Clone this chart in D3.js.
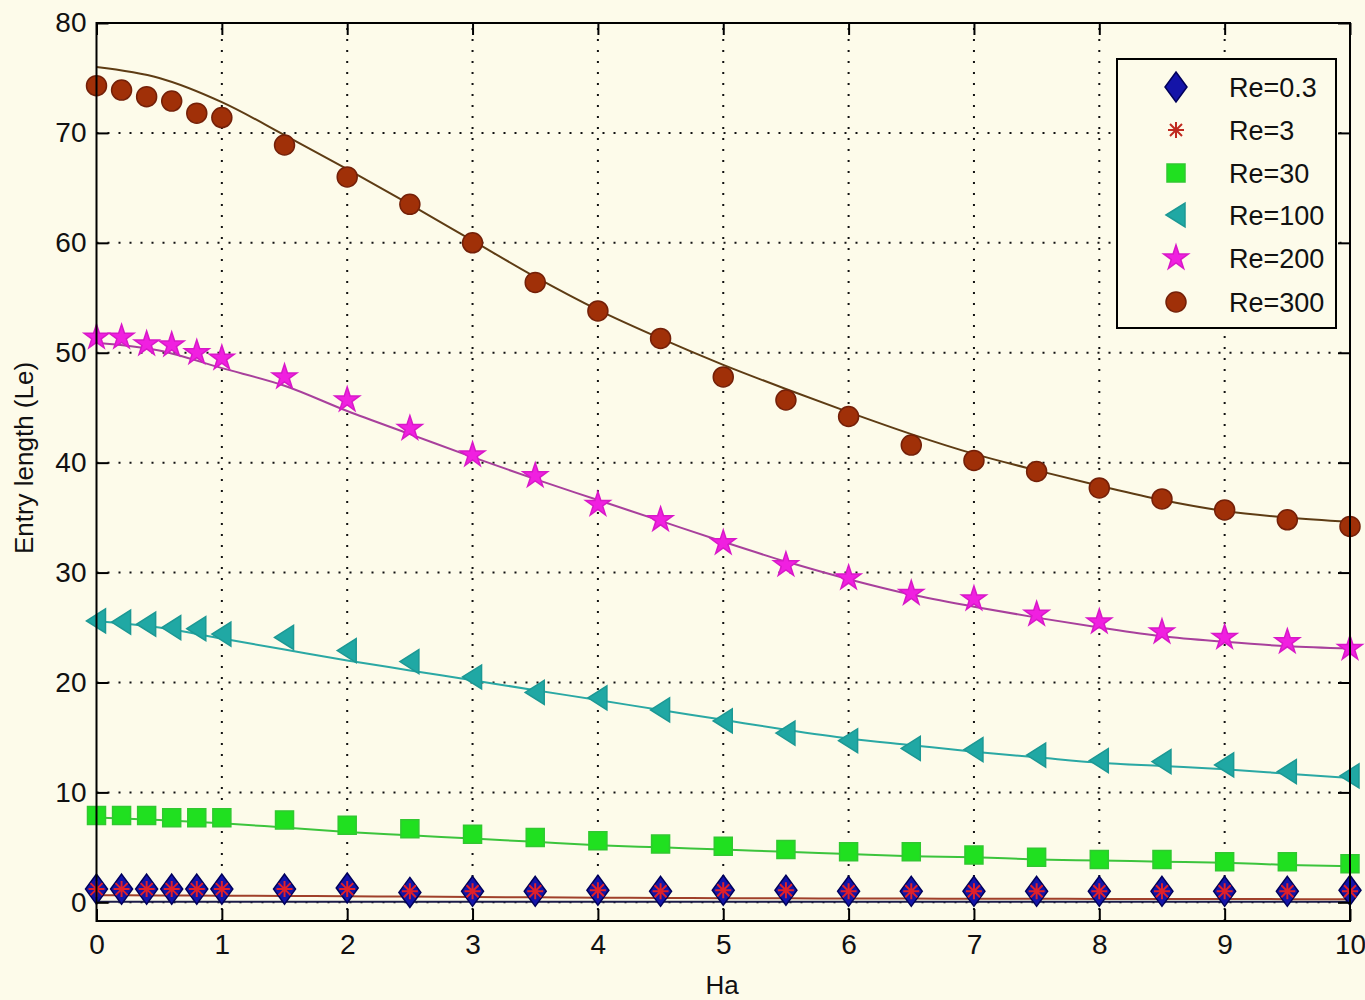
<!DOCTYPE html>
<html>
<head>
<meta charset="utf-8">
<script src="https://cdn.jsdelivr.net/npm/d3@7"></script>
<style>
  body { margin: 0; background: #fdfbea; }
  svg { display: block; font-family: "Liberation Sans", Arial, sans-serif; }
</style>
</head>
<body>
<div id="grafica"></div>
<script>
'use strict'

//---------------------------Datos--------------------------------//
// Ha de los puntos (marcadores)
var ha = [0, 0.2, 0.4, 0.6, 0.8, 1, 1.5, 2, 2.5, 3, 3.5, 4, 4.5, 5, 5.5, 6, 6.5, 7, 7.5, 8, 8.5, 9, 9.5, 10];
// Ha de las curvas de ajuste
var haAjuste = [0, 0.5, 1, 1.5, 2, 2.5, 3, 3.5, 4, 4.5, 5, 5.5, 6, 6.5, 7, 7.5, 8, 8.5, 9, 9.5, 10];

var re03 = [1.2, 1.2, 1.2, 1.2, 1.2, 1.2, 1.2, 1.3, 0.9, 1.0, 1.0, 1.1, 1.0, 1.1, 1.1, 1.0, 1.0, 1.0, 1.0, 1.0, 1.0, 1.0, 1.0, 1.1];
var re3 = [1.2, 1.2, 1.2, 1.2, 1.2, 1.2, 1.2, 1.2, 1.0, 1.0, 1.0, 1.1, 1.0, 1.1, 1.1, 1.0, 1.0, 1.0, 1.0, 1.0, 1.0, 1.0, 1.0, 1.0];
var re30 = [7.9, 7.9, 7.9, 7.7, 7.7, 7.7, 7.5, 7.0, 6.7, 6.2, 5.9, 5.6, 5.3, 5.1, 4.8, 4.6, 4.6, 4.3, 4.1, 3.9, 3.9, 3.7, 3.7, 3.5];
var re100 = [25.6, 25.5, 25.3, 25.0, 24.9, 24.4, 24.1, 22.9, 21.9, 20.5, 19.1, 18.6, 17.5, 16.5, 15.4, 14.7, 14.0, 13.9, 13.4, 12.9, 12.8, 12.5, 11.9, 11.5];
var re200 = [51.4, 51.4, 50.8, 50.7, 50.0, 49.5, 47.8, 45.7, 43.1, 40.7, 38.8, 36.2, 34.8, 32.7, 30.7, 29.5, 28.1, 27.6, 26.2, 25.5, 24.6, 24.1, 23.7, 23.1];
var re300 = [74.3, 73.9, 73.3, 72.9, 71.8, 71.4, 68.9, 66.0, 63.5, 60.0, 56.4, 53.8, 51.3, 47.8, 45.7, 44.2, 41.6, 40.2, 39.2, 37.7, 36.7, 35.7, 34.8, 34.2];

var ajuste03 = [0.06, 0.06, 0.06, 0.06, 0.06, 0.05, 0.05, 0.05, 0.05, 0.05, 0.05, 0.05, 0.05, 0.05, 0.05, 0.05, 0.05, 0.05, 0.05, 0.05, 0.05];
var ajuste3 = [0.65, 0.63, 0.6, 0.58, 0.55, 0.52, 0.48, 0.45, 0.42, 0.4, 0.38, 0.36, 0.35, 0.34, 0.33, 0.32, 0.31, 0.3, 0.3, 0.29, 0.28];
var ajuste30 = [7.7, 7.5, 7.2, 6.8, 6.4, 6.1, 5.8, 5.5, 5.2, 5.0, 4.8, 4.6, 4.4, 4.2, 4.1, 3.9, 3.8, 3.7, 3.6, 3.4, 3.3];
var ajuste100 = [25.6, 25.0, 24.0, 23.0, 22.0, 21.1, 20.2, 19.3, 18.4, 17.5, 16.6, 15.7, 14.9, 14.3, 13.7, 13.2, 12.7, 12.4, 12.1, 11.7, 11.3];
var ajuste200 = [50.9, 50.2, 48.6, 47.0, 44.7, 42.6, 40.5, 38.5, 36.6, 34.7, 32.8, 31.0, 29.4, 28.0, 26.9, 25.9, 25.0, 24.2, 23.7, 23.3, 23.1];
var ajuste300 = [76.0, 75.0, 72.8, 69.8, 66.7, 63.5, 60.2, 56.9, 53.9, 51.3, 48.9, 46.7, 44.6, 42.6, 40.8, 39.3, 37.9, 36.6, 35.6, 35.0, 34.6];

var etiquetas = ['Re=0.3', 'Re=3', 'Re=30', 'Re=100', 'Re=200', 'Re=300'];
var xTicks = [0, 1, 2, 3, 4, 5, 6, 7, 8, 9, 10];
var yTicks = [0, 10, 20, 30, 40, 50, 60, 70, 80];

//---------------------------Estilos de series--------------------------------//
var series = [
  { puntos: re03, ajuste: ajuste03, marca: 'diamante', relleno: '#1414a8', borde: '#00005a', linea: '#1c1c4a' },
  { puntos: re3, ajuste: ajuste3, marca: 'asterisco', relleno: 'none', borde: '#e0202a', linea: '#a0402a' },
  { puntos: re30, ajuste: ajuste30, marca: 'cuadrado', relleno: '#20e020', borde: '#30c830', linea: '#3cc43c' },
  { puntos: re100, ajuste: ajuste100, marca: 'triangulo', relleno: '#20a8a4', borde: '#1c9894', linea: '#2aa8a4' },
  { puntos: re200, ajuste: ajuste200, marca: 'estrella', relleno: '#f020e0', borde: '#d818c8', linea: '#a8409c' },
  { puntos: re300, ajuste: ajuste300, marca: 'circulo', relleno: '#a03008', borde: '#742008', linea: '#5e3c14' }
];

function pathMarca(tipo) {
  if (tipo === 'diamante') return 'M0,-15L11,0L0,15L-11,0Z';
  if (tipo === 'asterisco') return 'M-8,0L8,0M0,-8L0,8M-6,-6L6,6M-6,6L6,-6';
  if (tipo === 'cuadrado') return 'M-9,-9L9,-9L9,9L-9,9Z';
  if (tipo === 'triangulo') return 'M-10,0L9,-12L9,12Z';
  if (tipo === 'estrella') return d3.symbol(d3.symbolStar, 190)();
  return d3.symbol(d3.symbolCircle, Math.PI * 100)();
}

//---------------------------Grafica--------------------------------//
var width = 1365, height = 1000;
var margin = { top: 23, right: 15, bottom: 79, left: 96.5 };

var x = d3.scaleLinear().domain([0, 10]).range([margin.left, 1350]);
var y = d3.scaleLinear().domain([-1.7, 80]).range([921, margin.top]);

var svg = d3.select('#grafica').append('svg')
  .attr('width', width)
  .attr('height', height);

svg.append('rect')
  .attr('width', width).attr('height', height)
  .attr('fill', '#fdfbea');

// Rejilla punteada
var rejilla = svg.append('g')
  .attr('stroke', '#111')
  .attr('stroke-width', 2)
  .attr('stroke-dasharray', '2,9');

rejilla.selectAll('.gx').data(xTicks.slice(1, -1)).enter().append('line')
  .attr('x1', function (d) { return x(d); }).attr('x2', function (d) { return x(d); })
  .attr('y1', y.range()[0]).attr('y2', y.range()[1]);

rejilla.selectAll('.gy').data(yTicks.slice(0, -1)).enter().append('line')
  .attr('x1', x.range()[0]).attr('x2', x.range()[1])
  .attr('y1', function (d) { return y(d); }).attr('y2', function (d) { return y(d); });

// Curvas de ajuste
var linea = d3.line()
  .x(function (d) { return x(d[0]); })
  .y(function (d) { return y(d[1]); })
  .curve(d3.curveMonotoneX);

series.forEach(function (s) {
  svg.append('path')
    .datum(haAjuste.map(function (h, i) { return [h, s.ajuste[i]]; }))
    .attr('fill', 'none')
    .attr('stroke', s.linea)
    .attr('stroke-width', 2)
    .attr('d', linea);
});

// Marcadores
series.forEach(function (s) {
  svg.append('g').selectAll('path')
    .data(ha.map(function (h, i) { return [h, s.puntos[i]]; }))
    .enter().append('path')
    .attr('transform', function (d) { return 'translate(' + x(d[0]) + ',' + y(d[1]) + ')'; })
    .attr('d', pathMarca(s.marca))
    .attr('fill', s.relleno)
    .attr('stroke', s.borde)
    .attr('stroke-width', s.marca === 'asterisco' ? 2 : 1.5);
});

// Ejes (ticks hacia dentro, estilo MATLAB)
function estiloEje(g) {
  g.select('.domain').remove();
  g.selectAll('line').attr('stroke', '#000').attr('stroke-width', 2);
  g.selectAll('text').attr('fill', '#111').style('font-size', '28px');
}

svg.append('g')
  .attr('transform', 'translate(0,' + y.range()[0] + ')')
  .call(d3.axisBottom(x).tickValues(xTicks).tickSize(-12).tickPadding(13).tickFormat(d3.format('d')))
  .call(estiloEje);

svg.append('g')
  .attr('transform', 'translate(0,' + y.range()[1] + ')')
  .call(d3.axisTop(x).tickValues(xTicks).tickSize(-12).tickFormat(''))
  .call(estiloEje);

svg.append('g')
  .attr('transform', 'translate(' + x.range()[0] + ',0)')
  .call(d3.axisLeft(y).tickValues(yTicks).tickSize(-12).tickPadding(10).tickFormat(d3.format('d')))
  .call(estiloEje);

svg.append('g')
  .attr('transform', 'translate(' + x.range()[1] + ',0)')
  .call(d3.axisRight(y).tickValues(yTicks).tickSize(-12).tickFormat(''))
  .call(estiloEje);

// Marco
svg.append('rect')
  .attr('x', x.range()[0]).attr('y', y.range()[1])
  .attr('width', x.range()[1] - x.range()[0])
  .attr('height', y.range()[0] - y.range()[1])
  .attr('fill', 'none')
  .attr('stroke', '#000')
  .attr('stroke-width', 2);

// Titulos de ejes
svg.append('text')
  .attr('x', 722).attr('y', 994)
  .attr('text-anchor', 'middle')
  .style('font-size', '26px')
  .attr('fill', '#111')
  .text('Ha');

svg.append('text')
  .attr('transform', 'translate(33,458) rotate(-90)')
  .attr('text-anchor', 'middle')
  .style('font-size', '26px')
  .attr('fill', '#111')
  .text('Entry length (Le)');

//---------------------------Leyenda--------------------------------//
var leyenda = svg.append('g');
leyenda.append('rect')
  .attr('x', 1117).attr('y', 59)
  .attr('width', 219).attr('height', 269)
  .attr('fill', '#fdfbea')
  .attr('stroke', '#000')
  .attr('stroke-width', 2);

var filas = [87, 130, 173, 215, 258, 302];
series.forEach(function (s, i) {
  leyenda.append('path')
    .attr('transform', 'translate(1176,' + filas[i] + ')')
    .attr('d', pathMarca(s.marca))
    .attr('fill', s.relleno)
    .attr('stroke', s.marca === 'asterisco' ? '#c02a20' : s.borde)
    .attr('stroke-width', s.marca === 'asterisco' ? 2 : 1.5);
  leyenda.append('text')
    .attr('x', 1229).attr('y', filas[i] + 10)
    .style('font-size', '27px')
    .attr('fill', '#111')
    .text(etiquetas[i]);
});
</script>
</body>
</html>
